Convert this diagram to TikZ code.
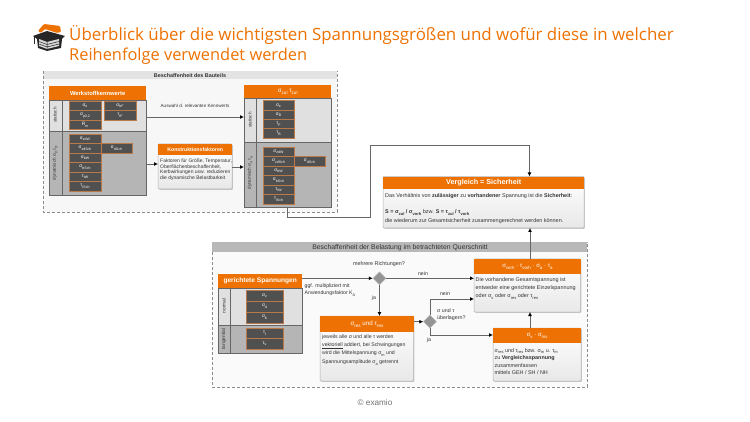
\documentclass[tikz,border=0pt]{standalone}
\usepackage{fontspec}
\usepackage{graphicx}
\setmainfont{Liberation Sans}
\newfontfamily\titlefont{Open Sans}
\usetikzlibrary{arrows.meta,shapes.geometric,shadows}
\definecolor{ora}{HTML}{EE7203}
\definecolor{orb}{HTML}{B9794A}
\definecolor{dk}{HTML}{505050}
\definecolor{lnc}{HTML}{666666}
\definecolor{txt}{HTML}{333333}
\tikzset{
 x=1pt,y=-1pt,
 frame/.style={draw=gray!90,densely dashed,line width=.6pt,fill=#1},
 lightrow/.style={draw=lnc,line width=.7pt,fill=black!12},
 darkrow/.style={draw=lnc,line width=.7pt,fill=black!29},
 hdr/.style={fill=ora,draw=none,text=white,font=\bfseries\fontsize{#1}{7}\selectfont,align=center},
 hdrg/.style={fill=ora,draw=none,text=white,font=\fontsize{#1}{7}\selectfont,align=center},
 cellb/.style={draw=orb,line width=.7pt,fill=dk,text=white,font=\fontsize{4.8}{5}\selectfont,minimum width=#1,minimum height=9.5pt,inner sep=0pt,anchor=center},
 card/.style={draw=black!30,line width=.5pt,top color=white,bottom color=black!9,rounded corners=1pt,drop shadow={shadow xshift=.9pt,shadow yshift=-.9pt,opacity=.4}},
 body/.style={anchor=north west,inner sep=0pt,text=txt,align=left,font=\fontsize{#1}{8}\selectfont},
 lab/.style={text=txt,inner sep=0pt,font=\fontsize{#1}{7}\selectfont,align=left},
 conn/.style={draw=lnc,line width=.9pt,-{Latex[length=4pt,width=4pt,black]}},
 dia/.style={diamond,draw=black!30,fill=black!42,minimum width=13pt,minimum height=13pt,inner sep=0pt,line width=.5pt},
 rot/.style={rotate=90,text=txt,inner sep=0pt,font=\fontsize{#1}{5}\selectfont},
}
\newcommand{\sbs}[1]{\raisebox{-.32em}{\scalebox{.74}{#1}}}
\newcommand{\sg}[1]{σ\sbs{#1}}
\newcommand{\ta}[1]{τ\sbs{#1}}
\begin{document}
\begin{tikzpicture}
\useasboundingbox (0,0) rectangle (750,422);
\fill[white] (0,0) rectangle (750,422);
% logo
\fill[ora,rounded corners=1pt] (38,31) -- (44,24) -- (60,26) -- (61,32) -- (57,33) -- (45,29) -- (41,33) -- cycle;
\fill[black!85] (33,36) -- (47,31) -- (65,36) -- (62,39) -- (61,48) -- (47,51) -- (38,48) -- (37,39) -- cycle;
\fill[white!85!black] (39,39) -- (47,42) -- (59,39) -- (59,46) -- (47,49) -- (39,46) -- cycle;
\draw[black!85,line width=.5pt] (39,41.5) -- (47,44.5) -- (59,41.5) (39,44) -- (47,47) -- (59,44) (47,42) -- (47,49);
\draw[black!85,line width=.7pt] (34.5,36) -- (34.5,44);
% title
\node[anchor=west,inner sep=0pt,text=ora,font=\titlefont\fontsize{16.9}{17}\selectfont] (t1) at (69,35) {Überblick über die wichtigsten Spannungsgrößen und wofür diese in welcher};
\node[anchor=west,inner sep=0pt,text=ora,font=\titlefont\fontsize{16.4}{17}\selectfont] (t2) at (69,56) {Reihenfolge verwendet werden};
% frame 1
\draw[frame=black!3] (43,71) rectangle (337,212);
\fill[black!11] (43.5,71.5) rectangle (336.5,79);
\node[lab=5.4,font=\bfseries\fontsize{5.4}{6}\selectfont] (f1) at (190,75.3) {Beschaffenheit des Bauteils};
% left table
\draw[lightrow] (49,100) rectangle (146,131);
\draw[darkrow] (49,131) rectangle (146,195);
\draw[lnc,line width=.7pt] (62,100) -- (62,195);
\node[hdr=5.8,minimum width=97pt,minimum height=14pt,anchor=north west,inner sep=0pt] (wk) at (49,86) {Werkstoffkennwerte};
\node[rot=4.6] (l1) at (55,115) {statisch};
\node[rot=4.6] (l2) at (55,163) {dynamisch \sg{D} \ta{D}};
\node[cellb=32pt] (a1) at (85,105.8) {\sg{e}};
\node[cellb=32pt] (a2) at (85,115.4) {\sg{p0,2}};
\node[cellb=32pt] (a3) at (85,125) {R\sbs{m}};
\node[cellb=32pt] (b1) at (120,105.8) {\sg{bF}};
\node[cellb=32pt] (b2) at (120,115.3) {\ta{tF}};
\node[cellb=32pt] (c1) at (85,138.75) {\sg{zdW}};
\node[cellb=32pt] (c2) at (85,148.25) {\sg{zdSch}};
\node[cellb=32pt] (c3) at (85,157.75) {\sg{bW}};
\node[cellb=32pt] (c4) at (85,167.25) {\sg{bSch}};
\node[cellb=32pt] (c5) at (85,176.75) {\ta{tW}};
\node[cellb=32pt] (c6) at (85,186.25) {\ta{tSch}};
\node[cellb=31pt] (c7) at (116.5,148.25) {\sg{dSch}};
% konstruktionsfaktoren
\draw[card] (158,144) rectangle (232,189);
\node[hdr=5.2,minimum width=74pt,minimum height=11pt,anchor=north west,inner sep=0pt] (kf) at (158,144) {Konstruktionsfaktoren};
\node[body=5,font=\fontsize{5}{5.8}\selectfont] (kt) at (160,158.5) {Faktoren für Größe, Temperatur,\\Oberflächenbeschaffenheit,\\Kerbwirkungen usw. reduzieren\\die dynamische Belastbarkeit};
% right table
\draw[lightrow] (244,98) rectangle (331,142);
\draw[darkrow] (244,142) rectangle (331,207);
\draw[lnc,line width=.7pt] (256,98) -- (256,207);
\node[hdrg=6.2,minimum width=87pt,minimum height=13pt,anchor=north west,inner sep=0pt] (zul) at (244,85) {\sg{zul} \ta{zul}};
\node[rot=4.6] (r1) at (250,120) {statisch};
\node[rot=4.6] (r2) at (250,173) {dynamisch \sg{a} \ta{a}};
\node[cellb=31pt] (d1) at (278.5,105.6) {\sg{e}};
\node[cellb=31pt] (d2) at (278.5,114.9) {\sg{B}};
\node[cellb=31pt] (d3) at (278.5,124.1) {\ta{F}};
\node[cellb=31pt] (d4) at (278.5,133.4) {\ta{B}};
\node[cellb=31pt] (e1) at (278.5,151.75) {\sg{zdW}};
\node[cellb=31pt] (e2) at (278.5,161.25) {\sg{zdSch}};
\node[cellb=31pt] (e3) at (278.5,170.75) {\sg{bW}};
\node[cellb=31pt] (e4) at (278.5,180.25) {\sg{bSch}};
\node[cellb=31pt] (e5) at (278.5,189.75) {\ta{tW}};
\node[cellb=31pt] (e6) at (278.5,199.25) {\ta{tSch}};
\node[cellb=31pt] (e7) at (309.5,161.25) {\sg{dSch}};
\coordinate (lt1) at (146,117);
\coordinate (rt1) at (244,117);
\coordinate (lt2) at (146,164);
\coordinate (kl) at (158,164);
\coordinate (kr) at (232,167);
\coordinate (rt2) at (244,167);
\draw[conn] (lt1) -- (rt1);
\draw[conn] (lt2) -- (kl);
\draw[conn] (kr) -- (rt2);
\node[lab=4.6] (aw) at (195,106) {Auswahl d. relevanten Kennwerts};
% vergleich
\draw[card] (383,176.5) rectangle (584,228);
\node[hdr=7.2,minimum width=201pt,minimum height=12.5pt,anchor=north west,inner sep=0pt] (vg) at (383,176.5) {Vergleich = Sicherheit};
\node[body=5.45] (v1) at (385,193) {Das Verhältnis von \textbf{zulässiger} zu \textbf{vorhandener} Spannung ist die \textbf{Sicherheit}:};
\node[body=5.45] (v2) at (385,209.5) {\textbf{S = \sg{zul} / \sg{vorh}} bzw. \textbf{S = \ta{zul} / \ta{vorh}}};
\node[body=5.45] (v3) at (385,218.5) {die wiederum zur Gesamtsicherheit zusammengerechnet werden können.};
\coordinate (e6b) at (287,207);
\coordinate (u1) at (287,217);
\coordinate (u2) at (370,217);
\coordinate (u3) at (370,145);
\coordinate (u4) at (529.5,145);
\draw[conn] (e6b) -- (u1) -- (u2) -- (u3) -- (u4) -- (u4 |- vg.north);
% frame 2
\draw[frame=black!2] (212,242) rectangle (587,387);
\fill[black!28] (212.4,242.4) rectangle (586.6,252);
\node[lab=6.85] (f2) at (400,247.3) {Beschaffenheit der Belastung im betrachteten Querschnitt};
% gerichtete
\draw[lightrow] (218,288) rectangle (302,325);
\draw[darkrow] (218,325) rectangle (302,353);
\draw[lnc,line width=.7pt] (230,288) -- (230,353);
\node[hdr=6.6,minimum width=84pt,minimum height=14pt,anchor=north west,inner sep=0pt] (gs) at (218,274) {gerichtete Spannungen};
\node[rot=4.8] (n1) at (224,306) {normal};
\node[rot=4.8] (n2) at (224,339) {tangential};
\node[cellb=37pt,minimum height=11pt] (g1) at (264.5,295.5) {\sg{z}};
\node[cellb=37pt,minimum height=11pt] (g2) at (264.5,306.5) {\sg{d}};
\node[cellb=37pt,minimum height=11pt] (g3) at (264.5,317.5) {\sg{b}};
\node[cellb=37pt,minimum height=10.5pt] (g4) at (264.5,333.25) {\ta{t}};
\node[cellb=37pt,minimum height=10.5pt] (g5) at (264.5,343.75) {\ta{s}};
\node[dia] (d1x) at (379.5,278.3) {};
\node[lab=5.4] (mr) at (379,264) {mehrere Richtungen?};
\node[body=5.2,font=\fontsize{5.2}{7}\selectfont] (ggf) at (304.5,284) {ggf. multipliziert mit\\Anwendungsfaktor K\sbs{A}};
\node[lab=5.2] (ja1) at (374,298) {ja};
\node[lab=5.2] (ne1) at (423,274) {nein};
% res
\draw[card] (320,316) rectangle (413.5,381);
\node[hdrg=6.2,minimum width=93.5pt,minimum height=16pt,anchor=north west,inner sep=0pt] (res) at (320,316) {\sg{res} und \ta{res}};
\node[body=5.2,font=\fontsize{5.2}{7.8}\selectfont] (rt) at (322,335) {jeweils alle σ und alle τ werden\\\underline{vektoriell} addiert, bei Schwingungen\\wird die Mittelspannung σ\sbs{m} und\\[1.3pt]Spannungsamplitude σ\sbs{a} getrennt};
\node[dia] (d2x) at (430,321.7) {};
\node[lab=5.3,anchor=north west] (ou) at (437,308) {σ und τ\\überlagern?};
\node[lab=5.2] (ne2) at (445,294) {nein};
\node[lab=5.2] (ja2) at (429,340) {ja};
% vorh
\draw[card] (474,259) rectangle (580.5,312);
\node[hdrg=6,minimum width=106.5pt,minimum height=15pt,anchor=north west,inner sep=0pt] (vh) at (474,259) {\sg{vorh} · \ta{vorh} · \sg{a} · \ta{a}};
\node[body=5.45] (vt) at (475.5,277.5) {Die vorhandene Gesamtspannung ist\\entweder eine gerichtete Einzelspannung\\oder \sg{v} oder \sg{res} oder \ta{res}};
% sv
\draw[card] (493,328) rectangle (581,381);
\node[hdrg=6,minimum width=88pt,minimum height=15pt,anchor=north west,inner sep=0pt] (sv) at (493,328) {\sg{v} · \sg{mv}};
\node[body=5.4,font=\fontsize{5.4}{7.6}\selectfont] (st) at (494.5,348) {\sg{res} und \ta{res} bzw. \sg{m} u. \ta{m}\\zu \textbf{Vergleichsspannung}\\zusammenfassen\\mittels GEH / SH / NH};
% connectors
\coordinate (gsr) at (302,278.3);
\coordinate (v1t) at (474,278.3);
\coordinate (v2t) at (474,299);
\coordinate (sl) at (493,335);
\coordinate (vhb) at (530,312);
\coordinate (vht) at (530,259);
\coordinate (vgb) at (530,228);
\coordinate (svt) at (530,328);
\draw[conn] (gsr) -- (d1x.west);
\draw[conn] (d1x.east) -- (v1t);
\draw[conn] (d1x.south) -- (d1x.south |- res.north);
\draw[conn] (res.east |- d2x) -- (d2x.west);
\draw[conn] (d2x.north) -- (d2x.north |- v2t) -- (v2t);
\draw[conn] (d2x.south) -- (d2x.south |- sl) -- (sl);
\draw[conn] (svt) -- (vhb);
\draw[conn] (vht) -- (vgb);
\node[font=\fontsize{8.2}{8}\selectfont,text=black!55,inner sep=0pt] (cp) at (375,403) {© examio};
\end{tikzpicture}
\end{document}
